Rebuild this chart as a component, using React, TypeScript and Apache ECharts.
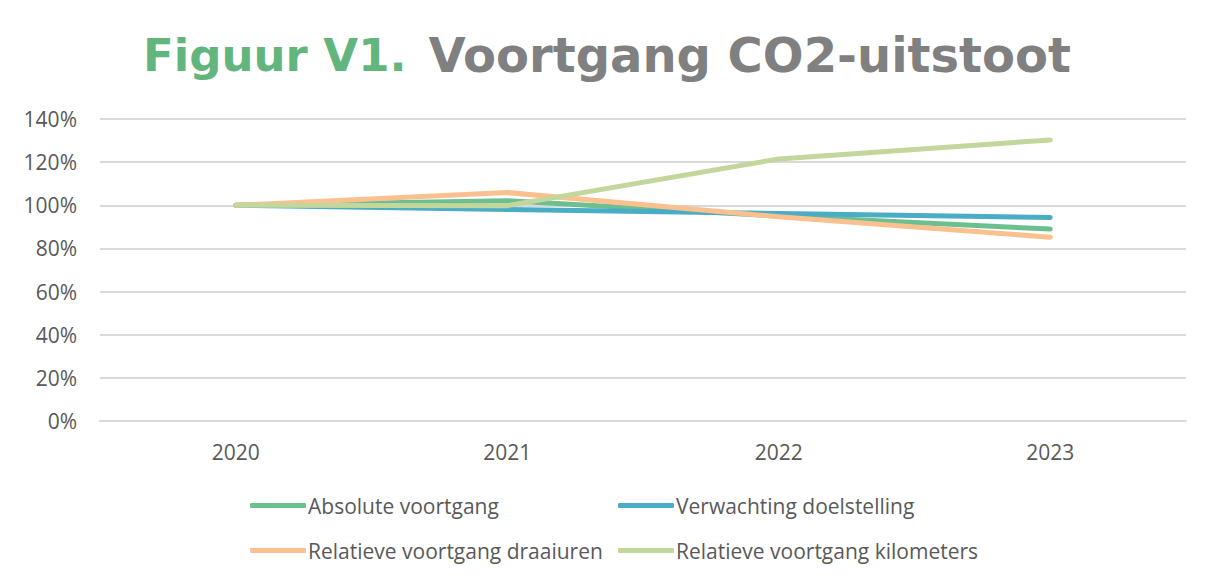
import React, { useEffect, useRef } from "react";
import * as echarts from "echarts";

const years = ["2020", "2021", "2022", "2023"];
const absoluteVoortgang = [1.0, 1.021, 0.95, 0.89];
const verwachtingDoelstelling = [1.0, 0.98, 0.962, 0.943];
const relatieveDraaiuren = [1.0, 1.059, 0.947, 0.852];
const relatieveKilometers = [1.0, 0.998, 1.215, 1.303];

const seriesNames = [
  "Absolute voortgang",
  "Verwachting doelstelling",
  "Relatieve voortgang draaiuren",
  "Relatieve voortgang kilometers",
];
const seriesColors = ["#6cbf8f", "#4bacc6", "#fac090", "#c3d69b"];

export default function App() {
  const ref = useRef<HTMLDivElement>(null);
  useEffect(() => {
    if (!ref.current) return;
    const chart = echarts.init(ref.current, null, { renderer: "svg" });
    const dataSets = [absoluteVoortgang, verwachtingDoelstelling, relatieveDraaiuren, relatieveKilometers];
    const legendPos = [
      { left: 245, top: 490 },
      { left: 613, top: 490 },
      { left: 245, top: 535 },
      { left: 613, top: 535 },
    ];
    chart.setOption({
      animation: false,
      backgroundColor: "#ffffff",
      title: {
        text: "{a|Figuur V1.}{b|Voortgang CO2-uitstoot}",
        left: 138,
        top: 26,
        textStyle: {
          rich: {
            a: { fontFamily: "DejaVu Sans", fontWeight: "bold", fontSize: 45, color: "#62b57c" },
            b: {
              fontFamily: "DejaVu Sans",
              fontWeight: "bold",
              fontSize: 48,
              color: "#808080",
              padding: [0, 0, 0, 22],
            },
          },
        },
      },
      legend: seriesNames.map((n, i) => ({
        data: [n],
        ...legendPos[i],
        icon: "roundRect",
        itemWidth: 56,
        itemHeight: 5,
        itemGap: 0,
        textStyle: { fontFamily: "Open Sans", fontSize: 21, color: "#595959", padding: [0, 0, 0, -3] },
      })),
      grid: { left: 100, right: 25, top: 119, bottom: 160 },
      xAxis: {
        type: "category",
        data: years,
        boundaryGap: true,
        axisLine: { show: true, lineStyle: { color: "#d9d9d9", width: 2 } },
        axisTick: { show: false },
        axisLabel: { margin: 20, fontFamily: "Open Sans", fontSize: 21, color: "#595959" },
      },
      yAxis: {
        type: "value",
        min: 0,
        max: 1.4,
        interval: 0.2,
        axisLine: { show: false },
        axisTick: { show: false },
        splitLine: { lineStyle: { color: "#d9d9d9", width: 2 } },
        axisLabel: {
          margin: 23,
          fontFamily: "Open Sans",
          fontSize: 21,
          color: "#595959",
          formatter: (v: number) => Math.round(v * 100) + "%",
        },
      },
      series: seriesNames.map((n, i) => ({
        name: n,
        type: "line",
        data: dataSets[i],
        showSymbol: false,
        symbol: "none",
        color: seriesColors[i],
        lineStyle: { width: 5, color: seriesColors[i], cap: "round", join: "round" },
      })),
    });
    return () => chart.dispose();
  }, []);
  return (
    <div style={{ position: "fixed", left: 0, top: 0, width: 1211, height: 581, background: "#fff" }}>
      <div
        style={{
          position: "absolute",
          left: 5,
          top: 7,
          width: 1220,
          height: 590,
          border: "1px solid #d9d9d9",
          boxSizing: "border-box",
        }}
      />
      <div ref={ref} style={{ position: "absolute", left: 0, top: 0, width: 1211, height: 581 }} />
    </div>
  );
}
